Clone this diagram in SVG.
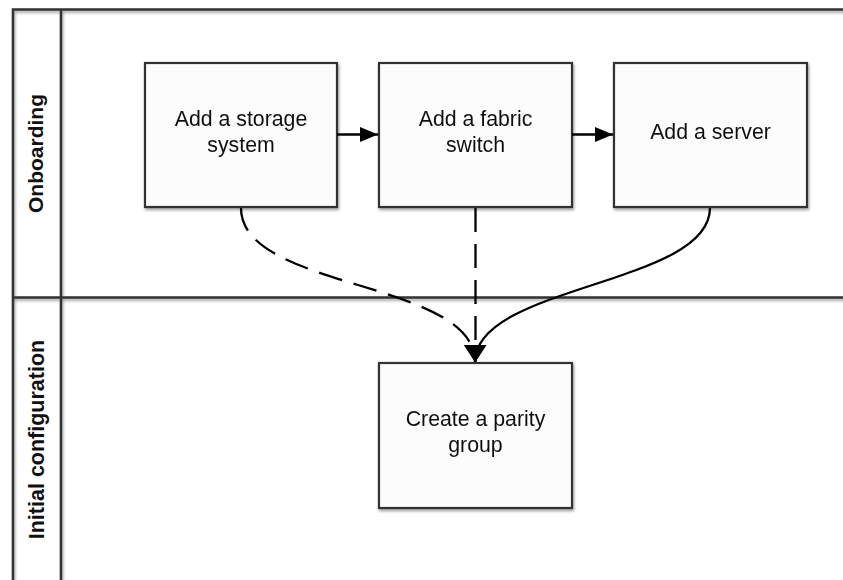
<svg xmlns="http://www.w3.org/2000/svg" width="843" height="580" viewBox="0 0 843 580">
<style>
  .lane { fill: none; stroke: #333; stroke-width: 2.5; }
  .box { fill: #fcfcfc; stroke: #333; stroke-width: 2.2; }
  .label { font-family: "Liberation Sans", Arial, sans-serif; font-size: 21.3px; fill: #111; text-anchor: middle; }
  .lanelabel { font-family: "Liberation Sans", Arial, sans-serif; font-weight: bold; fill: #111; text-anchor: middle; }
  .conn { fill: none; stroke: #000; stroke-width: 2.3; }
  .dash { stroke-dasharray: 24 12; }
</style>
<defs>
  <filter id="shadow" x="-10%" y="-10%" width="130%" height="130%">
    <feGaussianBlur in="SourceAlpha" stdDeviation="1.5"/>
    <feOffset dx="1" dy="2" result="b"/>
    <feComponentTransfer><feFuncA type="linear" slope="0.4"/></feComponentTransfer>
    <feMerge><feMergeNode/><feMergeNode in="SourceGraphic"/></feMerge>
  </filter>
  <marker id="arrH" markerUnits="userSpaceOnUse" markerWidth="19" markerHeight="16" refX="18" refY="7.5" orient="auto">
    <path d="M0,0 L18,7.5 L0,15 Z" fill="#000"/>
  </marker>
  <marker id="arrV" markerUnits="userSpaceOnUse" markerWidth="19" markerHeight="24" refX="17" refY="11" orient="auto">
    <path d="M0,0 L17,11 L0,22 Z" fill="#000"/>
  </marker>
</defs>
<rect width="843" height="580" fill="#fff"/>

<g id="lanes" filter="url(#shadow)">
  <path class="lane" d="M13,590 L13,9.5 L850,9.5"/>
  <path class="lane" d="M61,9.5 L61,590"/>
  <path class="lane" d="M13,297.5 L850,297.5"/>
</g>
<g id="lane-onboarding">
  <text class="lanelabel" font-size="21" transform="translate(43,153.5) rotate(-90)">Onboarding</text>
</g>
<g id="lane-initial-configuration">
  <text class="lanelabel" font-size="21.5" transform="translate(43.5,439.5) rotate(-90)">Initial configuration</text>
</g>

<g id="node-storage" filter="url(#shadow)">
  <rect class="box" x="145" y="63" width="192" height="144"/>
  <text class="label" x="241" y="126">Add a storage</text>
  <text class="label" x="241" y="152">system</text>
</g>
<g id="node-fabric" filter="url(#shadow)">
  <rect class="box" x="379" y="63" width="193" height="144"/>
  <text class="label" x="475.5" y="126">Add a fabric</text>
  <text class="label" x="475.5" y="152">switch</text>
</g>
<g id="node-server" filter="url(#shadow)">
  <rect class="box" x="614" y="63" width="193" height="144"/>
  <text class="label" x="710.5" y="139">Add a server</text>
</g>
<g id="node-parity" filter="url(#shadow)">
  <rect class="box" x="379" y="363" width="193" height="145"/>
  <text class="label" x="475.5" y="426">Create a parity</text>
  <text class="label" x="475.5" y="452">group</text>
</g>

<g id="connectors">
  <path class="conn" d="M337,134.5 L378,134.5" marker-end="url(#arrH)"/>
  <path class="conn" d="M572,134.5 L613,134.5" marker-end="url(#arrH)"/>
  <path class="conn dash" d="M241,208 C241,290 475,280 475,362" marker-end="url(#arrV)"/>
  <path class="conn dash" d="M475.5,208 L475.5,362" marker-end="url(#arrV)"/>
  <path class="conn" d="M710,208 C710,285 475,285 475,362" marker-end="url(#arrV)"/>
</g>
</svg>
